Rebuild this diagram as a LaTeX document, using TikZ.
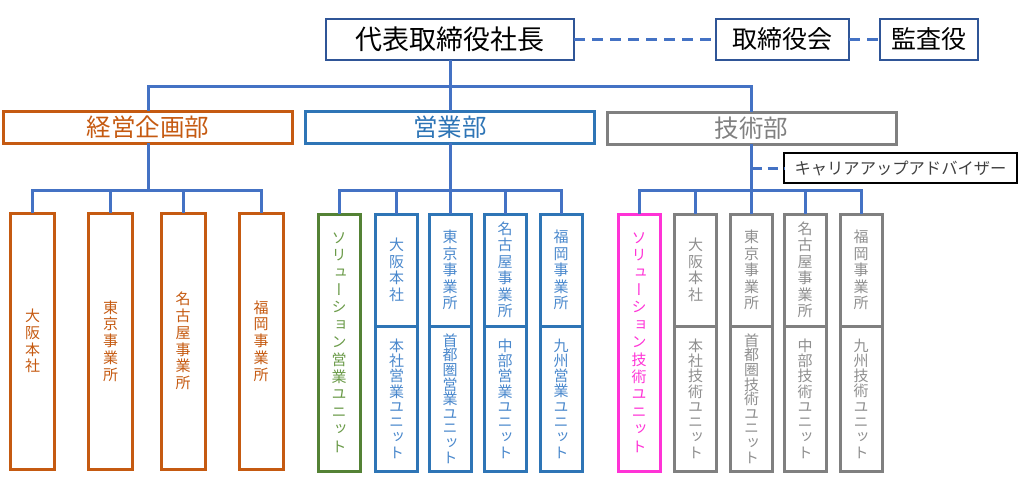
\documentclass[tikz,border=0pt]{standalone}
\usepackage{fontspec}
\setmainfont{Noto Sans CJK JP}
\newfontfamily\jpv[RawFeature=+vert]{Noto Sans CJK JP}
\definecolor{linec}{HTML}{4472C4}
\definecolor{topc}{HTML}{2F5597}
\definecolor{orgc}{HTML}{C55A11}
\definecolor{bluec}{HTML}{2E75B6}
\definecolor{bluet}{HTML}{4A88CC}
\definecolor{grayc}{HTML}{808080}
\definecolor{grayt}{HTML}{8F8F8F}
\definecolor{greenc}{HTML}{548235}
\definecolor{greent}{HTML}{6A9A48}
\definecolor{magc}{HTML}{FF33D6}
\makeatletter
\def\vt@loop#1{\ifx#1\relax\else\hbox to 1em{\hss#1\hss}\expandafter\vt@loop\fi}
\newcommand\vt[2][16.5pt]{\vbox{\baselineskip=#1\lineskip=0pt\lineskiplimit=-100pt\vt@loop#2\relax}}
\makeatother
\tikzset{
  conn/.style={line width=3pt, draw=linec},
  dconn/.style={line width=3pt, draw=linec, dash pattern=on 11pt off 7pt},
  topbox/.style={draw=topc, line width=1.3pt, inner sep=0pt, outer sep=0pt, minimum height=41pt, text=black, font=\fontsize{25}{28}\selectfont},
  dept/.style={draw, line width=3pt, inner sep=0pt, outer sep=0pt, minimum width=289pt, minimum height=32pt, font=\fontsize{24.5}{26}\selectfont},
  unit/.style={draw, line width=3pt, inner sep=0pt, outer sep=0pt, font=\jpv\fontsize{15}{17}\selectfont},
  ko/.style={unit, draw=orgc, text=orgc, minimum width=44pt, minimum height=256pt},
  eg/.style={unit, draw=bluec, text=bluet, minimum width=42pt},
  gj/.style={unit, draw=grayc, text=grayt, minimum width=42pt},
  upper/.style={minimum height=112pt},
  lower/.style={minimum height=145pt},
}
\begin{document}
\begin{tikzpicture}[x=1pt,y=-1pt]
\useasboundingbox (0,0) rectangle (1023,480);
% top level
\node[topbox, minimum width=248pt, font=\fontsize{27}{29}\selectfont] (ceo) at (450,39.5) {代表取締役社長};
\node[topbox, minimum width=133pt] (board) at (782.5,39.5) {取締役会};
\node[topbox, minimum width=98pt] (audit) at (929,39.5) {監査役};
\draw[dconn] (ceo.east) -- (board.west);
\draw[dconn] (board.east) -- (audit.west);
% departments
\node[dept, draw=orgc, text=orgc] (keiei) at (148,127) {経営企画部};
\node[dept, draw=bluec, text=bluec] (eigyo) at (450,127) {営業部};
\node[dept, draw=grayc, text=grayc] (gijutsu) at (751.5,128) {技術部};
\coordinate (bus) at (450,86);
\draw[conn] (ceo.south) -- (eigyo.north);
\draw[conn] (keiei.north) |- (bus) -| (gijutsu.north);
% career advisor
\node[draw=black, line width=1.3pt, inner sep=0pt, outer sep=0pt, minimum width=233pt, minimum height=30pt, text=black!75, font=\fontsize{16.3}{18}\selectfont] (career) at (900.5,168) {キャリアアップアドバイザー};
\coordinate (cj) at (751.5,168);
\draw[dconn, dash pattern=on 10pt off 6pt] (cj) -- (career.west);
% keiei children
\node[ko] (k1) at (32.5,341) {\vt[16.7pt]{大阪本社}};
\node[ko] (k2) at (110.5,341) {\vt[16.7pt]{東京事業所}};
\node[ko] (k3) at (183,341) {\vt[16.7pt]{名古屋事業所}};
\node[ko] (k4) at (261,341) {\vt[16.7pt]{福岡事業所}};
\coordinate (kb) at (148,190);
\draw[conn] (keiei.south) -- (kb);
\draw[conn] (k1.north) |- (kb) -| (k4.north);
\draw[conn] (k2.north) -- (k2.north |- kb);
\draw[conn] (k3.north) -- (k3.north |- kb);
% eigyo children
\node[unit, draw=greenc, text=greent, minimum width=42pt, minimum height=257pt] (es) at (339,342.5) {\vt[17.4pt]{ソリューション営業ユニット}};
\node[eg, lower] (e1b) at (396.5,398.5) {\vt[15.3pt]{本社営業ユニット}};
\node[eg, upper] (e1) at (396.5,270) {\vt{大阪本社}};
\node[eg, lower] (e2b) at (450,398.5) {\vt[14.6pt]{首都圏営業ユニット}};
\node[eg, upper] (e2) at (450,270) {\vt{東京事業所}};
\node[eg, lower] (e3b) at (505,398.5) {\vt[15.3pt]{中部営業ユニット}};
\node[eg, upper] (e3) at (505,270) {\vt{名古屋事業所}};
\node[eg, lower] (e4b) at (561,398.5) {\vt[15.3pt]{九州営業ユニット}};
\node[eg, upper] (e4) at (561,270) {\vt{福岡事業所}};
\coordinate (eb) at (450,190);
\draw[conn] (eigyo.south) -- (eb);
\draw[conn] (es.north) |- (eb) -| (e4.north);
\draw[conn] (e1.north) -- (e1.north |- eb);
\draw[conn] (e2.north) -- (e2.north |- eb);
\draw[conn] (e3.north) -- (e3.north |- eb);
% gijutsu children
\node[unit, draw=magc, text=magc, minimum width=42pt, minimum height=257pt] (gs) at (639,342.5) {\vt[17.4pt]{ソリューション技術ユニット}};
\node[gj, lower] (g1b) at (695.5,398.5) {\vt[15.3pt]{本社技術ユニット}};
\node[gj, upper] (g1) at (695.5,270) {\vt{大阪本社}};
\node[gj, lower] (g2b) at (751.5,398.5) {\vt[14.6pt]{首都圏技術ユニット}};
\node[gj, upper] (g2) at (751.5,270) {\vt{東京事業所}};
\node[gj, lower] (g3b) at (805,398.5) {\vt[15.3pt]{中部技術ユニット}};
\node[gj, upper] (g3) at (805,270) {\vt{名古屋事業所}};
\node[gj, lower] (g4b) at (861,398.5) {\vt[15.3pt]{九州技術ユニット}};
\node[gj, upper] (g4) at (861,270) {\vt{福岡事業所}};
\coordinate (gb) at (751.5,190);
\draw[conn] (gijutsu.south) -- (gb);
\draw[conn] (gs.north) |- (gb) -| (g4.north);
\draw[conn] (g1.north) -- (g1.north |- gb);
\draw[conn] (g2.north) -- (g2.north |- gb);
\draw[conn] (g3.north) -- (g3.north |- gb);
\end{tikzpicture}
\end{document}
